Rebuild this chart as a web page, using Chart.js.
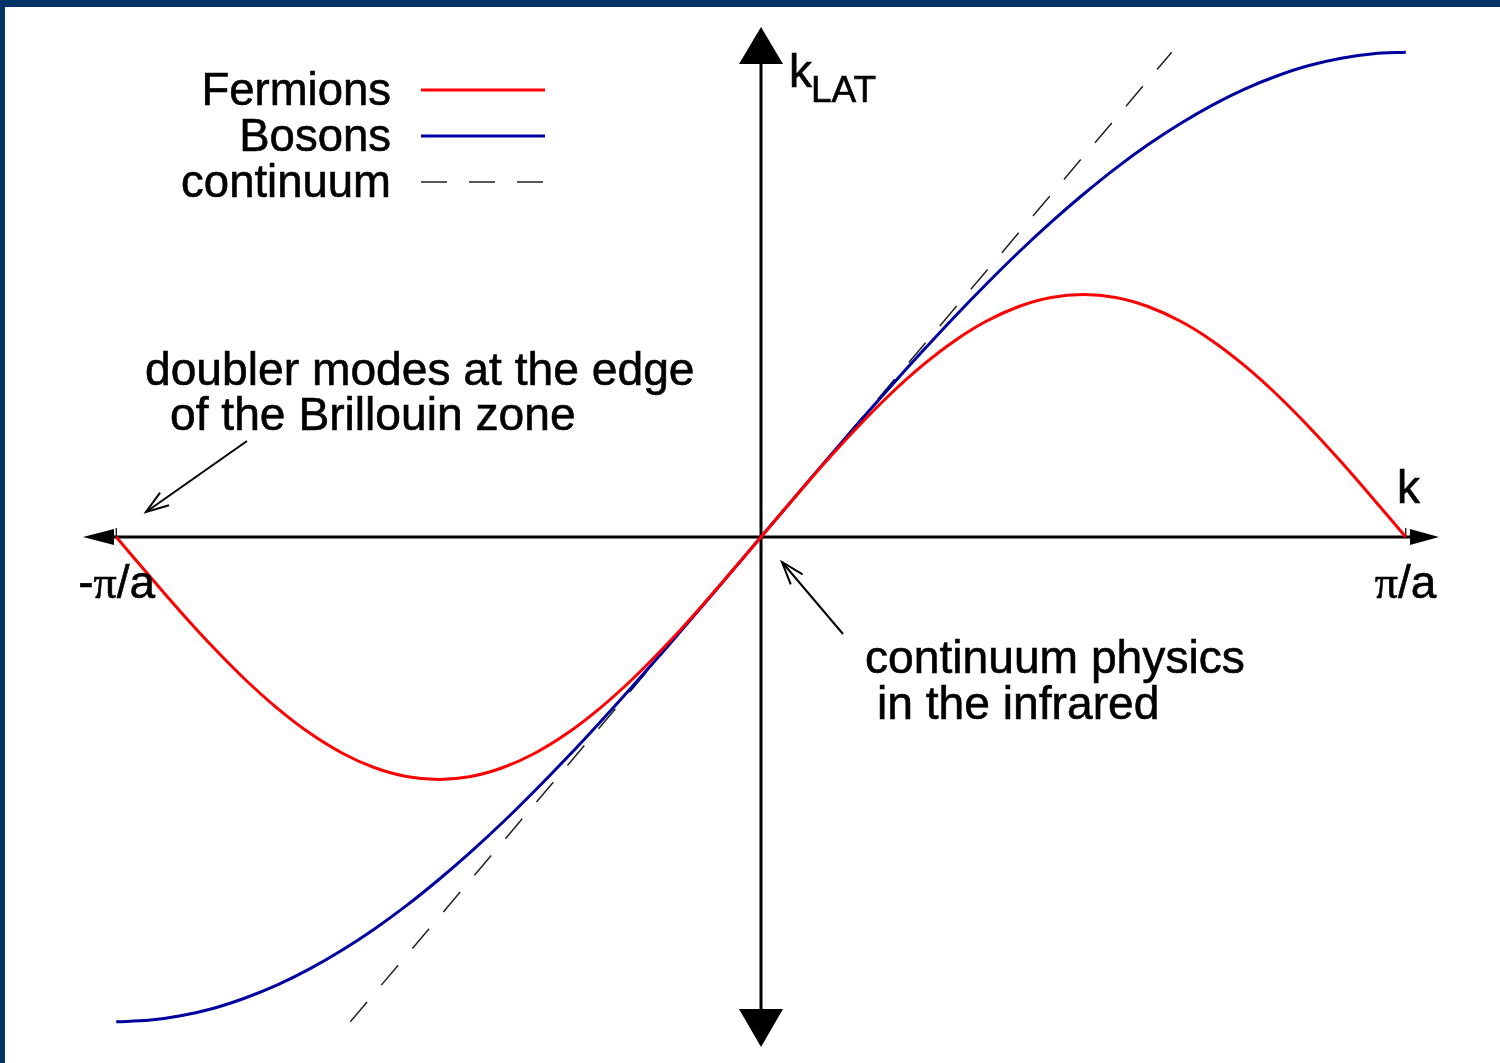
<!DOCTYPE html>
<html>
<head>
<meta charset="utf-8">
<script src="https://cdn.jsdelivr.net/npm/chart.js@4.4.1/dist/chart.umd.min.js"></script>
<style>
  body { margin: 0; background: #fff; }
  canvas { display: block; }
</style>
</head>
<body>
<canvas id="dispersion" width="1500" height="1063"></canvas>
<script>
// momentum k in units of pi/a
const kValues = [
  -1.00, -0.95, -0.90, -0.85, -0.80, -0.75, -0.70, -0.65, -0.60, -0.55,
  -0.50, -0.45, -0.40, -0.35, -0.30, -0.25, -0.20, -0.15, -0.10, -0.05,
   0.00,  0.05,  0.10,  0.15,  0.20,  0.25,  0.30,  0.35,  0.40,  0.45,
   0.50,  0.55,  0.60,  0.65,  0.70,  0.75,  0.80,  0.85,  0.90,  0.95, 1.00
];
// lattice momentum, naive fermions
const fermionValues = [
   0.000, -0.156, -0.309, -0.454, -0.588, -0.707, -0.809, -0.891, -0.951, -0.988,
  -1.000, -0.988, -0.951, -0.891, -0.809, -0.707, -0.588, -0.454, -0.309, -0.156,
   0.000,  0.156,  0.309,  0.454,  0.588,  0.707,  0.809,  0.891,  0.951,  0.988,
   1.000,  0.988,  0.951,  0.891,  0.809,  0.707,  0.588,  0.454,  0.309,  0.156, 0.000
];
// lattice momentum, bosons
const bosonValues = [
  -2.000, -1.994, -1.975, -1.945, -1.902, -1.848, -1.782, -1.705, -1.618, -1.521,
  -1.414, -1.299, -1.176, -1.045, -0.908, -0.765, -0.618, -0.467, -0.313, -0.157,
   0.000,  0.157,  0.313,  0.467,  0.618,  0.765,  0.908,  1.045,  1.176,  1.299,
   1.414,  1.521,  1.618,  1.705,  1.782,  1.848,  1.902,  1.945,  1.975,  1.994, 2.000
];
// continuum line end points
const continuumK = [-0.637, 0.637];
const continuumValues = [-2.0, 2.0];
// edge tick labels on the k axis
const tickValues = [-1, 1];
const tickLabels = ['-\u03c0/a', '\u03c0/a'];

const SANS = '"Liberation Sans", Arial, sans-serif';
const SERIF = '"Liberation Serif", "DejaVu Serif", serif';

function pts(xs, ys) {
  return xs.map((x, i) => ({ x: x, y: ys[i] }));
}

function arrowHead(ctx, x1, y1, x2, y2, len, spread) {
  // open arrow head at (x2, y2) pointing away from (x1, y1)
  const ang = Math.atan2(y2 - y1, x2 - x1);
  ctx.beginPath();
  ctx.moveTo(x2 + len * Math.cos(ang + Math.PI - spread), y2 + len * Math.sin(ang + Math.PI - spread));
  ctx.lineTo(x2, y2);
  ctx.lineTo(x2 + len * Math.cos(ang + Math.PI + spread), y2 + len * Math.sin(ang + Math.PI + spread));
  ctx.stroke();
}

function text(ctx, str, x, y, size, align, family) {
  ctx.font = size + 'px ' + (family || SANS);
  ctx.textAlign = align || 'left';
  ctx.textBaseline = 'alphabetic';
  ctx.fillStyle = '#000';
  ctx.strokeStyle = '#000';
  ctx.lineWidth = 0.6;
  ctx.fillText(str, x, y);
  ctx.strokeText(str, x, y);
}

// writes a label like "-π/a" with the pi in a serif face
function piLabel(ctx, str, x, y, size) {
  let cx = x;
  for (const ch of str) {
    const fam = ch === '\u03c0' ? SERIF : SANS;
    text(ctx, ch, cx, y, size, 'left', fam);
    cx += ctx.measureText(ch).width;
  }
}

const axesPlugin = {
  id: 'axes',
  beforeDatasetsDraw(chart) {
    const ctx = chart.ctx;
    const xs = chart.scales.x, ys = chart.scales.y;
    const x0 = xs.getPixelForValue(0), y0 = ys.getPixelForValue(0);
    const a = chart.chartArea;
    ctx.save();
    ctx.strokeStyle = '#000';
    ctx.fillStyle = '#000';
    ctx.lineWidth = 3;

    // k axis
    ctx.beginPath();
    ctx.moveTo(a.left + 25, y0);
    ctx.lineTo(a.right - 25, y0);
    ctx.stroke();
    ctx.beginPath();
    ctx.moveTo(a.left - 1, y0);
    ctx.lineTo(a.left + 30, y0 - 8);
    ctx.lineTo(a.left + 30, y0 + 8);
    ctx.closePath();
    ctx.fill();
    ctx.beginPath();
    ctx.moveTo(a.right + 1, y0);
    ctx.lineTo(a.right - 28, y0 - 8);
    ctx.lineTo(a.right - 28, y0 + 8);
    ctx.closePath();
    ctx.fill();

    // k_LAT axis
    ctx.beginPath();
    ctx.moveTo(x0, a.top + 30);
    ctx.lineTo(x0, a.bottom - 30);
    ctx.stroke();
    ctx.beginPath();
    ctx.moveTo(x0, a.top - 1);
    ctx.lineTo(x0 - 22, a.top + 36);
    ctx.lineTo(x0 + 22, a.top + 36);
    ctx.closePath();
    ctx.fill();
    ctx.beginPath();
    ctx.moveTo(x0, a.bottom + 1);
    ctx.lineTo(x0 - 22, a.bottom - 37);
    ctx.lineTo(x0 + 22, a.bottom - 37);
    ctx.closePath();
    ctx.fill();

    // small ticks at the zone edges
    ctx.lineWidth = 1.2;
    tickValues.forEach(v => {
      const px = xs.getPixelForValue(v);
      ctx.beginPath();
      ctx.moveTo(px, y0 - 9);
      ctx.lineTo(px, y0);
      ctx.stroke();
    });
    ctx.restore();
  },
  afterDraw(chart) {
    const ctx = chart.ctx;
    const xs = chart.scales.x, ys = chart.scales.y;
    const y0 = ys.getPixelForValue(0);
    ctx.save();

    // axis titles
    text(ctx, 'k', 789, 87, 46);
    text(ctx, 'LAT', 811, 102, 37);
    text(ctx, 'k', 1397, 503, 46);

    // edge labels
    piLabel(ctx, tickLabels[0], xs.getPixelForValue(tickValues[0]) - 38, y0 + 61, 46);
    piLabel(ctx, tickLabels[1], xs.getPixelForValue(tickValues[1]) - 31, y0 + 61, 46);

    // legend
    const ds = chart.data.datasets;
    const legendY = [90, 136, 182];
    ds.forEach((d, i) => {
      text(ctx, d.label, 391, legendY[i] + 15, 45.5, 'right');
      ctx.strokeStyle = d.borderColor;
      ctx.lineWidth = d.borderWidth;
      ctx.setLineDash(d.borderDash || []);
      ctx.beginPath();
      ctx.moveTo(421, legendY[i]);
      ctx.lineTo(545, legendY[i]);
      ctx.stroke();
    });
    ctx.setLineDash([]);

    // annotations
    text(ctx, 'doubler modes at the edge', 145, 385, 46.2);
    text(ctx, 'of the Brillouin zone', 170, 430, 46.2);
    text(ctx, 'continuum physics', 865, 673, 46.2);
    text(ctx, 'in the infrared', 877, 719, 46.2);

    ctx.strokeStyle = '#000';
    ctx.lineWidth = 2;
    ctx.beginPath();
    ctx.moveTo(247, 441);
    ctx.lineTo(146, 512);
    ctx.stroke();
    arrowHead(ctx, 247, 441, 146, 512, 24, 0.33);
    ctx.beginPath();
    ctx.moveTo(843, 634);
    ctx.lineTo(782, 562);
    ctx.stroke();
    arrowHead(ctx, 843, 634, 782, 562, 24, 0.33);

    // page frame
    ctx.fillStyle = '#003468';
    ctx.fillRect(0, 0, chart.width, 7);
    ctx.fillRect(0, 0, 5, chart.height);
    ctx.restore();
  }
};

new Chart(document.getElementById('dispersion'), {
  type: 'line',
  data: {
    datasets: [
      {
        label: 'Fermions',
        data: pts(kValues, fermionValues),
        borderColor: '#ff0000',
        borderWidth: 3,
        tension: 0.3
      },
      {
        label: 'Bosons',
        data: pts(kValues, bosonValues),
        borderColor: '#0000a0',
        borderWidth: 3,
        tension: 0.3
      },
      {
        label: 'continuum',
        data: pts(continuumK, continuumValues),
        borderColor: '#222',
        borderWidth: 1.5,
        borderDash: [26, 22]
      }
    ]
  },
  options: {
    responsive: false,
    animation: false,
    layout: { padding: { left: 84, right: 62, top: 28, bottom: 17 } },
    elements: { point: { radius: 0 } },
    scales: {
      x: { type: 'linear', min: -1.05, max: 1.05, display: false },
      y: { type: 'linear', min: -2.1, max: 2.1, display: false }
    },
    plugins: {
      legend: { display: false },
      tooltip: { enabled: false }
    }
  },
  plugins: [axesPlugin]
});
</script>
</body>
</html>
